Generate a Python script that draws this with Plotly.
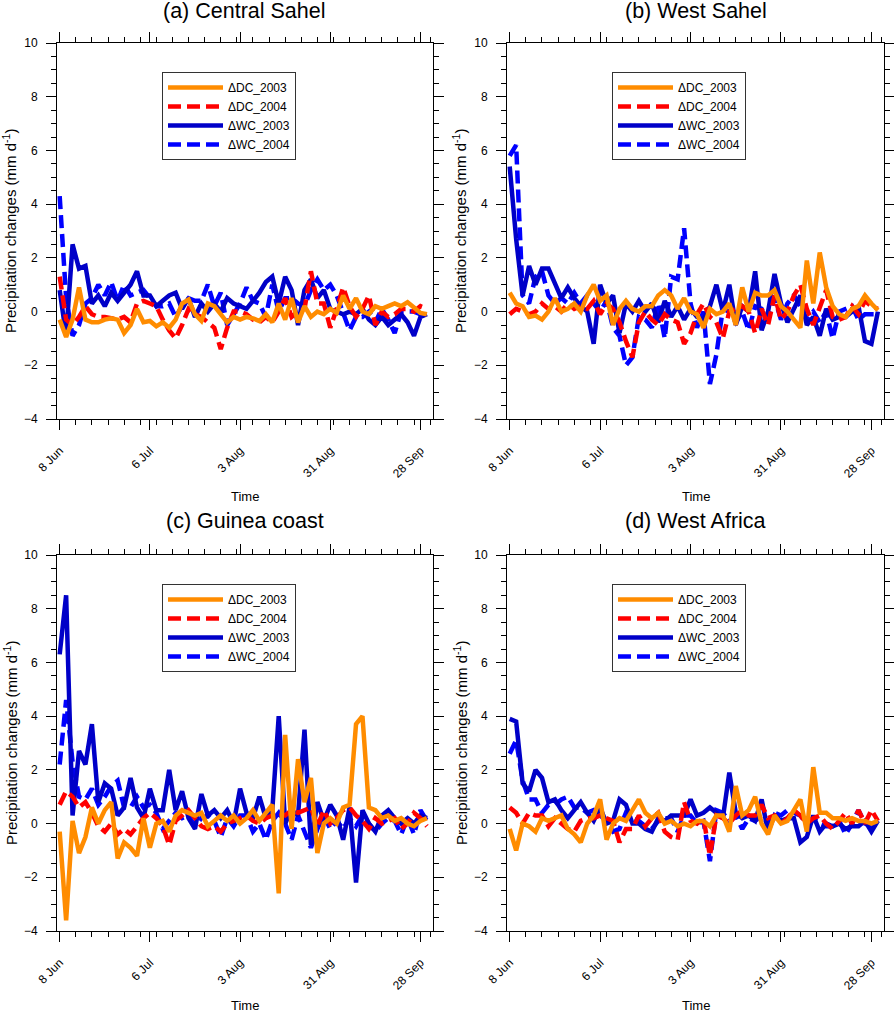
import pandas as pd
import plotly.graph_objects as go

# daily-ish sampling (every 2 days) from 8 Jun to 30 Sep
days = pd.date_range("2003-06-08", periods=58, freq="2D")

panel_titles = ["(a) Central Sahel", "(b) West Sahel", "(c) Guinea coast", "(d) West Africa"]
series_names = ["ΔDC_2003", "ΔDC_2004", "ΔWC_2003", "ΔWC_2004"]
tick_dates = ["2003-06-08", "2003-07-06", "2003-08-03", "2003-08-31", "2003-09-28"]
tick_labels = ["8 Jun", "6 Jul", "3 Aug", "31 Aug", "28 Sep"]

# (a) Central Sahel
csahel_dc03 = [-0.3, -0.95, -0.3, 0.9, -0.3, -0.4, -0.4, -0.3, -0.25, -0.3,
               -0.8, -0.5, 0.1, -0.4, -0.35, -0.55, -0.4, -0.6, -0.3, 0.3,
               0.45, -0.1, -0.35, 0.3, 0.2, -0.1, -0.4, -0.2, -0.3, -0.2,
               -0.25, -0.35, -0.1, -0.4, 0.3, -0.3, 0.5, -0.4, 0.2, -0.2,
               0.0, -0.1, 0.1, -0.05, 0.6, 0.1, 0.5, 0.0, -0.1, 0.2,
               0.1, 0.2, 0.3, 0.2, 0.35, 0.15, -0.05, -0.1]
csahel_dc04 = [1.3, -0.3, -0.5, -0.2, 0.2, -0.1, -0.2, -0.2, -0.25, -0.3,
               -0.2, -0.4, 0.3, 0.4, 0.3, 0.2, -0.3, -0.7, -1.0, -0.5,
               0.1, -0.1, -0.2, -0.4, -0.6, -1.4, -0.6, 0.0, 0.0, -0.1,
               -0.3, -0.4, -0.2, -0.4, 0.0, 0.5, -0.2, 0.0, 0.1, 1.5,
               0.3, 0.3, -0.6, 0.1, 0.9, 0.2, -0.2, 0.1, 0.6, -0.5,
               0.0, -0.2, -0.1, 0.1, 0.1, 0.0, 0.2, 0.1]
csahel_wc03 = [0.8, -0.9, 2.5, 1.6, 1.7, 0.3, 0.6, 0.2, 0.7, 0.4,
               0.7, 1.0, 1.5, 0.6, 0.6, 0.2, 0.4, 0.6, 0.7, 0.1,
               0.5, -0.2, 0.3, 0.0, 0.3, 0.0, 0.5, 0.3, 0.2, 0.1,
               0.4, 0.7, 1.1, 1.3, 0.3, 1.3, 0.8, -0.5, 0.8, 1.2,
               0.5, 0.8, 0.1, 0.0, -0.1, 0.0, -0.1, 0.1, -0.3, -0.5,
               -0.2, -0.5, -0.3, -0.1, -0.4, -0.9, -0.2, -0.1]
csahel_wc04 = [4.3, 0.5, -0.9, -0.5, 0.3, 0.5, 1.0, 0.6, 1.1, 0.4,
               1.0, 0.6, 0.7, 0.8, 0.5, 0.2, 0.2, 0.3, -0.2, 0.2,
               0.5, 0.4, 0.4, 1.0, 0.2, 0.7, -0.5, -0.1, 0.3, 0.9,
               0.4, 0.3, -0.2, 1.0, 0.0, 0.5, 0.5, 0.3, 0.2, 0.8,
               1.2, 0.8, 1.0, 0.6, -0.1, -0.7, -0.2, -0.2, 0.0, -0.4,
               0.1, -0.3, -0.8, 0.0, 0.0, 0.0, -0.1, -0.1]

# (b) West Sahel
wsahel_dc03 = [0.7, 0.3, 0.2, -0.2, -0.15, -0.3, 0.0, 0.5, 0.0, 0.1,
               0.3, 0.0, 0.6, 1.0, 0.4, 0.6, -0.5, 0.1, 0.4, 0.1,
               0.0, 0.2, 0.2, 0.6, 0.8, 0.6, 0.1, 0.5, 0.0, -0.1,
               -0.6, 0.1, -0.1, 0.0, 0.3, -0.5, 0.9, 0.0, 0.7, 0.6,
               0.6, 0.8, 0.2, 0.0, -0.3, -0.6, 1.9, 0.3, 2.2, 0.9,
               0.2, -0.1, -0.2, 0.1, 0.2, 0.6, 0.3, 0.05]
wsahel_dc04 = [-0.1, 0.1, 0.0, -0.1, 0.0, 0.3, 0.1, 0.2, 0.0, 0.3,
               0.1, 0.2, 0.1, 0.4, -0.1, 0.3, 0.1, -0.4, -1.1, -1.7,
               -0.4, 0.0, -0.3, -0.5, -0.1, -0.3, -0.4, -1.2, -0.8, -0.1,
               0.3, -0.2, -0.4, -1.0, 0.0, 0.1, 0.2, 0.0, -0.8, 0.1,
               -0.5, 0.6, -0.3, 0.0, 0.6, 1.0, 0.1, -0.5, 0.1, 0.8,
               -0.2, -0.3, -0.2, 0.2, -0.1, 0.4, 0.2, 0.1]
wsahel_wc03 = [5.4, 2.7, 0.6, 1.7, 1.0, 1.6, 1.6, 1.0, 0.5, 0.9,
               0.5, 0.2, 0.0, -1.2, 1.0, 0.3, 0.6, -0.8, 0.3, 0.0,
               0.4, 0.0, 0.3, -0.4, 0.4, -0.2, 0.2, -0.3, 0.1, -0.2,
               -0.3, 0.2, 1.0, 0.0, 1.0, -0.5, 0.2, 0.0, 1.5, -0.7,
               0.0, 1.4, 0.3, -0.4, 0.1, 0.6, -0.5, -0.2, -0.9, 0.1,
               -0.3, -0.2, -0.2, 0.0, 0.2, -1.1, -1.2, 0.0]
wsahel_wc04 = [5.8, 6.2, 0.6, 0.3, 1.3, 1.5, 0.6, 0.3, 0.5, 0.3,
               0.7, 0.3, 0.6, 0.3, 0.0, 0.4, -0.6, -0.9, -2.0, -1.7,
               -0.2, -0.3, -0.6, 0.3, -1.0, 1.3, 1.2, 3.1, 0.3, -0.6,
               0.0, -2.7, -1.6, 0.1, 0.0, -0.4, 0.0, -0.7, 0.2, 0.1,
               -0.3, 0.5, -0.3, 0.3, 0.6, 0.2, -0.3, 0.0, -0.4, 0.0,
               -1.0, 0.0, 0.1, 0.2, -0.3, -0.1, -0.1, -0.1]

# (c) Guinea coast
guinea_dc03 = [-0.3, -3.6, 0.1, -1.1, -0.5, 0.6, 0.0, 0.5, 0.8, -1.3,
               -0.7, -0.9, -1.2, 0.2, -0.9, 0.0, 0.1, -0.3, 0.3, 0.5,
               0.4, 0.3, 0.4, -0.1, 0.1, 0.3, 0.1, 0.3, 0.0, 0.2,
               0.5, 0.1, 0.4, 0.7, -2.6, 3.3, -0.2, 2.4, 0.8, 1.7,
               -1.1, 0.0, 0.2, 0.0, 0.6, 0.7, 3.7, 4.0, 0.6, 0.5,
               0.2, 0.3, 0.1, 0.2, 0.0, -0.1, 0.1, 0.2]
guinea_dc04 = [0.7, 1.2, 1.0, 0.6, 0.8, 0.4, -0.1, -0.3, 0.0, -0.4,
               -0.2, -0.4, -0.1, 0.2, 0.4, 0.2, -0.1, -0.8, 0.1, 0.3,
               0.5, 0.2, -0.1, -0.2, -0.1, -0.3, 0.0, 0.1, 0.2, 0.3,
               0.1, 0.0, 0.2, 0.3, 0.4, 0.3, 0.5, 0.4, 0.5, 0.6,
               -0.1, 0.5, 0.0, 0.2, 0.5, 0.6, 0.3, 0.1, -0.2, 0.2,
               0.0, 0.1, 0.2, -0.2, 0.0, 0.4, 0.2, -0.1]
guinea_wc03 = [6.3, 8.5, 0.3, 2.7, 2.2, 3.7, 0.8, 1.5, 1.3, 0.3,
               0.6, 1.7, 0.6, 0.2, 1.3, 0.5, 0.5, 2.0, 0.5, 1.2,
               0.2, -0.2, 1.1, 0.3, 0.5, 0.2, 0.5, 0.0, 1.3, 0.4,
               0.2, 1.0, 0.2, 0.5, 4.0, 0.0, 0.5, 0.3, 3.5, -0.8,
               0.8, 0.1, 0.7, 0.3, -0.6, 0.6, -2.2, 0.5, 0.0, -0.3,
               0.3, 0.5, 0.2, 0.0, 0.2, 0.0, 0.3, 0.2]
guinea_wc04 = [2.2, 4.6, 2.3, 1.0, 0.9, 1.3, 0.7, 1.0, 1.4, 1.6,
               0.6, 0.6, 1.0, 0.6, 0.7, 0.4, -0.2, 0.1, 0.4, 0.2,
               0.3, -0.1, 0.2, 0.3, 0.1, -0.5, 0.2, -0.1, 0.3, 0.3,
               -0.3, 0.0, -0.6, 0.1, 0.4, 0.0, -0.6, 0.3, -0.3, -0.9,
               -0.2, 0.3, -0.2, 0.1, -0.2, 0.2, -0.1, 0.3, 0.0, -0.3,
               0.0, 0.2, 0.1, -0.4, 0.2, -0.4, 0.5, 0.1]

# (d) West Africa
wafrica_dc03 = [-0.2, -1.0, 0.0, -0.1, -0.3, 0.2, 0.1, 0.2, 0.3, -0.2,
                -0.4, -0.7, 0.0, 0.3, 0.9, -0.6, 0.0, 0.2, 0.1, 0.5,
                0.9, 0.4, 0.2, 0.4, 0.0, 0.1, -0.1, 0.0, -0.1, 0.1,
                0.1, -0.1, 0.3, 0.3, -0.3, 1.4, 0.3, 0.5, 1.0, 0.0,
                -0.4, 0.3, 0.0, 0.1, 0.5, 0.9, -0.3, 2.1, 0.4, 0.4,
                0.2, 0.2, 0.1, 0.2, 0.1, 0.1, 0.0, 0.1]
wafrica_dc04 = [0.6, 0.4, 0.0, 0.4, 0.3, 0.3, -0.1, 0.2, 0.0, -0.2,
                -0.3, 0.1, 0.2, 0.2, 0.3, 0.2, 0.1, -0.7, -0.2, -0.2,
                0.3, -0.1, 0.2, 0.4, -0.3, -0.5, -0.6, 0.8, 0.1, 0.0,
                0.2, -1.2, 0.3, 0.2, 0.0, 0.3, 0.5, 0.3, 0.3, 0.7,
                0.2, 0.3, 0.0, 0.2, 0.5, 0.3, 0.0, 0.2, 0.3, 0.0,
                -0.2, 0.1, 0.4, 0.0, 0.5, 0.0, 0.5, 0.1]
wafrica_wc03 = [3.9, 3.8, 1.5, 1.2, 2.0, 1.7, 0.8, 0.9, 0.5, 0.2,
                0.5, 0.8, 0.4, 0.1, 0.6, 0.0, 0.1, 0.9, 0.7, 0.0,
                0.0, -0.2, -0.3, 0.2, 0.1, 0.3, 0.3, 0.3, 0.9, 0.3,
                0.4, 0.6, 0.4, 0.2, 1.9, 0.4, 0.2, 0.3, 0.1, 0.9,
                -0.3, 0.3, 0.1, 0.2, 0.2, -0.7, -0.5, 0.3, -0.3, 0.0,
                -0.1, 0.0, -0.2, -0.1, -0.1, 0.1, -0.3, 0.1]
wafrica_wc04 = [2.6, 3.1, 1.6, 0.9, 0.9, 0.4, 0.7, 0.7, 0.9, 1.0,
                0.6, 0.6, 0.4, 0.5, 0.3, 0.1, -0.3, -0.2, 0.4, 0.2,
                0.1, -0.1, -0.2, 0.1, 0.2, 0.2, -0.3, 0.3, 0.3, 0.0,
                0.1, -1.4, 0.5, 0.4, 0.1, 0.3, -0.2, 0.2, 0.1, 0.3,
                0.0, 0.4, 0.3, 0.5, 0.4, 0.3, 0.0, 0.2, 0.0, -0.1,
                -0.1, 0.1, -0.4, 0.0, 0.5, 0.0, -0.1, 0.1]

panels = [
    [csahel_dc03, csahel_dc04, csahel_wc03, csahel_wc04],
    [wsahel_dc03, wsahel_dc04, wsahel_wc03, wsahel_wc04],
    [guinea_dc03, guinea_dc04, guinea_wc03, guinea_wc04],
    [wafrica_dc03, wafrica_dc04, wafrica_wc03, wafrica_wc04],
]

# line styles per series (DC_2003, DC_2004, WC_2003, WC_2004)
styles = [
    dict(color="#ff8c00", dash="solid"),
    dict(color="#ff0000", dash="13px,6px"),
    dict(color="#0000c8", dash="solid"),
    dict(color="#0000ff", dash="13px,6px"),
]

W, H = 894, 1014
# plot boxes in pixels: left, right, top, bottom
boxes = [(57, 433, 43, 419), (507, 884, 43, 419),
         (57, 433, 555, 931), (507, 884, 555, 931)]
title_y = [11, 11, 521, 521]
time_y = [497, 497, 1005, 1005]

font_family = "Liberation Sans, Arial, Helvetica, sans-serif"

fig = go.Figure()
layout = dict(width=W, height=H, margin=dict(l=0, r=0, t=0, b=0, autoexpand=False),
              plot_bgcolor="white", paper_bgcolor="white",
              font=dict(family=font_family, color="black"),
              annotations=[])

for p in range(4):
    sfx = "" if p == 0 else str(p + 1)
    xa, ya = "x" + sfx, "y" + sfx
    lg = "legend" + sfx
    # draw WC first so the DC lines sit on top, legend order kept by rank
    for s in [3, 2, 1, 0]:
        fig.add_trace(go.Scatter(
            x=days, y=panels[p][s], mode="lines", name=series_names[s],
            line=dict(width=4.5, **styles[s]),
            xaxis=xa, yaxis=ya, legend=lg, legendrank=s + 1,
        ))

    l, r, t, b = boxes[p]
    axis_common = dict(showline=True, linecolor="black", linewidth=1, mirror="ticks",
                       ticks="outside", ticklen=10, tickwidth=1, tickcolor="black",
                       showgrid=False, zeroline=False, automargin=False,
                       tickfont=dict(size=12, color="black"))
    layout["xaxis" + sfx] = dict(
        axis_common, domain=[l / W, r / W], anchor=ya,
        type="date", range=["2003-06-07 04:00", "2003-10-01 21:30"],
        tickmode="array", tickvals=tick_dates, ticktext=tick_labels, tickangle=-45,
        ticklabelstandoff=9,
        minor=dict(ticks="outside", ticklen=5, tickcolor="black",
                   tick0="2003-06-08", dtick=5 * 86400000, showgrid=False),
    )
    layout["yaxis" + sfx] = dict(
        axis_common, domain=[1 - b / H, 1 - t / H], anchor=xa,
        range=[-4, 10], tickmode="linear", tick0=0, dtick=2, ticklabelstandoff=6,
        minor=dict(ticks="outside", ticklen=5, tickcolor="black", dtick=0.5, showgrid=False),
    )
    layout[lg] = dict(
        x=(l + 105) / W, y=1 - (t + 29) / H, xanchor="left", yanchor="top",
        bgcolor="white", bordercolor="#333333", borderwidth=1,
        font=dict(size=12, color="black"), itemwidth=55, traceorder="normal",
    )
    cx = (l + r) / 2 / W
    layout["annotations"] += [
        dict(text=panel_titles[p], x=cx, y=1 - title_y[p] / H, xref="paper", yref="paper",
             showarrow=False, xanchor="center", yanchor="middle", font=dict(size=21.5)),
        dict(text="Time", x=cx, y=1 - time_y[p] / H, xref="paper", yref="paper",
             showarrow=False, xanchor="center", yanchor="middle", font=dict(size=13)),
        dict(text="Precipitation changes (mm d<sup>-1</sup>)", textangle=-90,
             x=(l - 47) / W, y=1 - (t + b) / 2 / H, xref="paper", yref="paper",
             showarrow=False, xanchor="center", yanchor="middle", font=dict(size=15)),
    ]

fig.update_layout(**layout)
# page body has a default 8px margin; drop it so the figure fills the window
fig.write_html("out.html", config={"displayModeBar": False},
               post_script="document.body.style.margin = '0';")
